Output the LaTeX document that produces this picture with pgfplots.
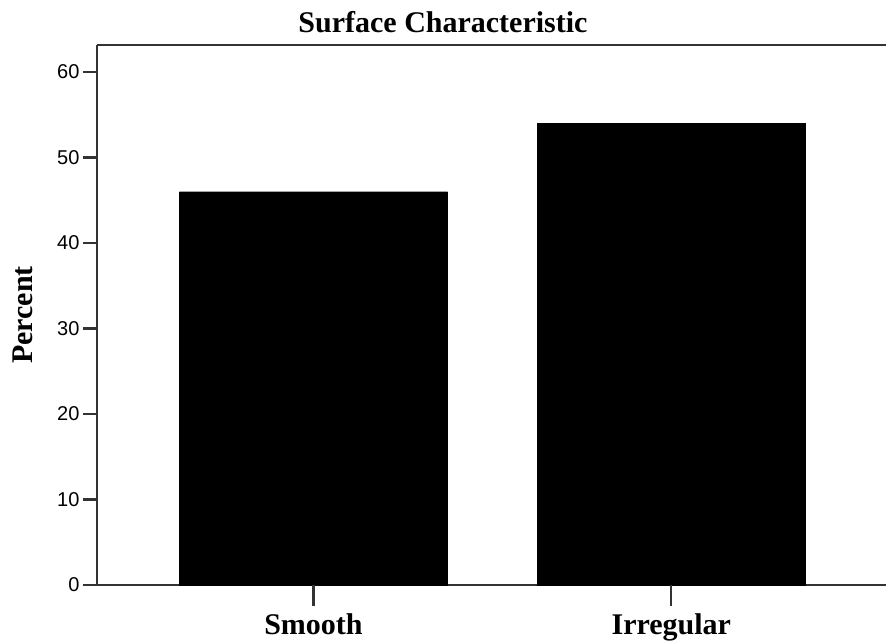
\documentclass[border=0pt]{standalone}
\usepackage{fontspec}
\setmainfont{Liberation Serif}
\newfontfamily\axsans{Liberation Sans}
\usepackage{pgfplots}
\pgfplotsset{compat=1.18}
\begin{document}
\begin{tikzpicture}
\begin{axis}[
 name=ax,
 scale only axis,
 width=789pt, height=540pt,
 xmin=-0.605, xmax=1.6,
 ymin=0, ymax=63.16,
 axis lines=left,
 axis line style={-, line width=2pt, black!80},
 ybar, bar width=0.75,
 xtick={0,1}, xticklabels={Smooth,Irregular},
 ytick={0,10,...,60},
 tick align=outside,
 major tick length=14pt,
 /pgf/number format/assume math mode=true,
 yticklabel style={font=\axsans\fontsize{20}{24}\selectfont},
 xticklabel style={font=\bfseries\fontsize{30}{36}\selectfont, yshift=-11pt},
 ylabel={Percent},
 ylabel style={font=\bfseries\fontsize{30}{36}\selectfont, at={(rel axis cs:-0.0773,0.5)}, anchor=south},
 title={Surface Characteristic},
 title style={font=\bfseries\fontsize{30}{36}\selectfont, at={(rel axis cs:0.4385,1)}, anchor=base, yshift=6pt},
 clip=false,
]
\addplot[fill=black, draw=black] coordinates {(0,46) (1,54)};
\draw[line width=2pt, black!80] (rel axis cs:0,1) -- (rel axis cs:1,1);
\begin{scope}[line width=2.2pt, black!80]
\draw ([yshift=-21pt]axis cs:0,0) -- (axis cs:0,0);
\draw ([yshift=-21pt]axis cs:1,0) -- (axis cs:1,0);
\draw ([xshift=-14pt]axis cs:-0.605,0) -- (axis cs:-0.605,0);
\draw ([xshift=-14pt]axis cs:-0.605,10) -- (axis cs:-0.605,10);
\draw ([xshift=-14pt]axis cs:-0.605,20) -- (axis cs:-0.605,20);
\draw ([xshift=-14pt]axis cs:-0.605,30) -- (axis cs:-0.605,30);
\draw ([xshift=-14pt]axis cs:-0.605,40) -- (axis cs:-0.605,40);
\draw ([xshift=-14pt]axis cs:-0.605,50) -- (axis cs:-0.605,50);
\draw ([xshift=-14pt]axis cs:-0.605,60) -- (axis cs:-0.605,60);
\end{scope}
\end{axis}
\pgfresetboundingbox
\path[use as bounding box] ([xshift=-97pt,yshift=-59pt]ax.south west) rectangle ([yshift=45pt]ax.north east);
\end{tikzpicture}
\end{document}
